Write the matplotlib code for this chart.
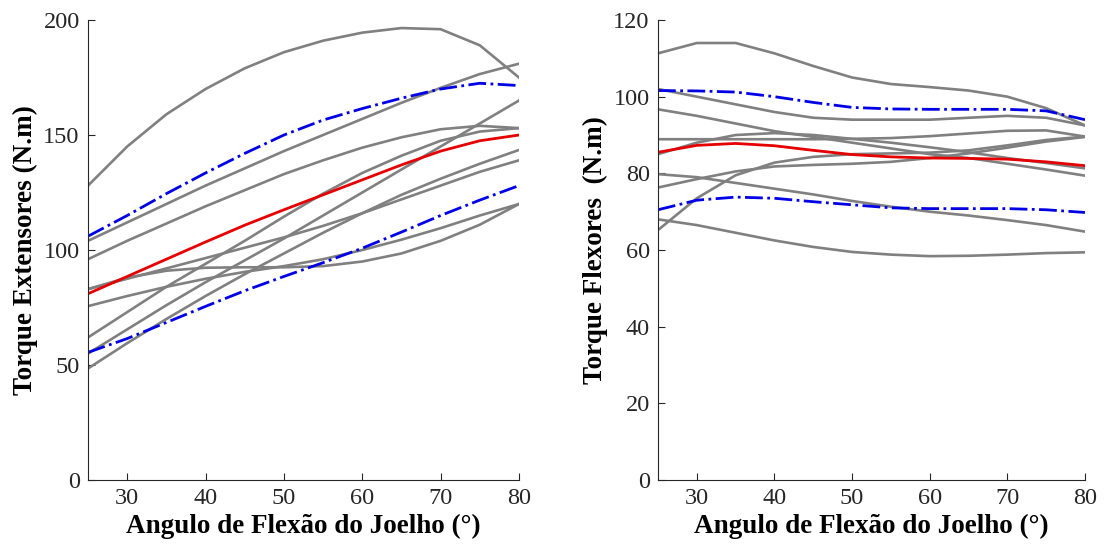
import matplotlib
matplotlib.use("Agg")
import matplotlib.pyplot as plt

# Knee flexion angle (degrees), shared by both panels
angles = [25, 30, 35, 40, 45, 50, 55, 60, 65, 70, 75, 80]

# Extensor torque (N.m): individual subjects, mean, mean +/- SD
ext_subjects = [
    [128, 145, 159, 170, 179, 186, 191, 194.5, 196.5, 196, 189, 175],
    [104, 112, 120, 128, 135.5, 143, 150, 157, 164, 170.5, 176.5, 181],
    [96, 104, 111.5, 119, 126, 133, 139, 144.5, 149, 152.5, 154, 153],
    [83, 88, 91, 92.3, 92.5, 92.5, 93, 95, 98.5, 104, 111, 120],
    [83, 87.5, 92, 96.5, 101, 105.5, 110.5, 116, 122, 128, 134, 139],
    [75.6, 80, 84, 87.5, 90.5, 93, 96, 100, 104.5, 109.5, 115, 120],
    [62, 73, 84, 94, 104, 114.5, 124.5, 133.5, 141, 147.5, 151.5, 153],
    [55, 65.5, 76, 86, 95.5, 105, 115, 125, 135, 145, 155, 165],
    [48.5, 59.5, 70, 80, 89.5, 98.5, 107.5, 116, 124, 131, 137.5, 143.5],
]
ext_mean = [81, 88.5, 96, 103.5, 110.8, 117.5, 124, 130.5, 137, 143, 147.5, 150]
ext_upper = [106, 115, 124.5, 133.5, 142, 150, 156.5, 161.5, 166, 170, 172.5, 171.5]
ext_lower = [55.5, 61.5, 68.5, 75.5, 82.3, 88.5, 94.5, 100.8, 107.8, 115, 121.7, 128]

# Flexor torque (N.m)
flex_subjects = [
    [111.3, 114, 114, 111.3, 108, 105, 103.3, 102.5, 101.6, 100, 97, 92.5],
    [102, 100, 98, 96, 94.5, 94, 94, 94, 94.5, 95, 94.5, 92.5],
    [96.7, 95, 93, 91, 89.5, 88, 86.5, 85, 84, 82.5, 81, 79.4],
    [88.9, 88.9, 88.9, 88.9, 88.9, 89, 89.2, 89.7, 90.4, 91.1, 91.2, 89.6],
    [85, 88, 90, 90.5, 90, 89, 88, 86.8, 85.5, 84, 82.7, 81.3],
    [79.8, 79, 77.5, 76, 74.5, 72.8, 71.3, 70, 69, 67.8, 66.5, 64.8],
    [76.3, 78.5, 80.5, 81.8, 82.2, 82.5, 83, 84, 85.2, 86.7, 88.3, 89.5],
    [68, 66.5, 64.5, 62.5, 60.8, 59.5, 58.8, 58.4, 58.5, 58.8, 59.2, 59.4],
    [65.2, 73.5, 79.5, 82.8, 84.3, 85, 85.2, 85.4, 86, 87.3, 88.7, 89.6],
]
flex_mean = [85.5, 87.3, 87.8, 87.2, 86, 84.9, 84.3, 84, 83.9, 83.7, 83, 82]
flex_upper = [101.6, 101.5, 101.2, 100, 98.5, 97.2, 96.8, 96.7, 96.7, 96.7, 96.3, 94]
flex_lower = [70.5, 73, 73.8, 73.5, 72.6, 71.8, 71, 70.8, 70.8, 70.8, 70.5, 69.8]

xticks = [30, 40, 50, 60, 70, 80]
xlabel = "Angulo de Flexão do Joelho (°)"

plt.rcParams["font.family"] = ["Liberation Serif", "DejaVu Serif"]


def draw_panel(ax, subjects, mean, upper, lower, ylim, yticks, ylabel):
    # grey subjects first, then SD band lines and mean on top
    for s in subjects:
        ax.plot(angles, s, color="#808080", linewidth=1.9)
    ax.plot(angles, upper, color="#0000e6", linestyle="-.", linewidth=2)
    ax.plot(angles, lower, color="#0000e6", linestyle="-.", linewidth=2)
    ax.plot(angles, mean, color="#e60000", linewidth=2)

    ax.set_xlim(25, 80)
    ax.set_ylim(*ylim)
    ax.set_xticks(xticks)
    ax.set_yticks(yticks)
    ax.spines["top"].set_visible(False)
    ax.spines["right"].set_visible(False)
    for sp in ("left", "bottom"):
        ax.spines[sp].set_color("#262626")
        ax.spines[sp].set_linewidth(0.8)
    ax.tick_params(direction="in", length=5, width=0.8, colors="#262626",
                   labelsize=17.5, pad=6)
    ax.set_xlabel(xlabel, fontsize=19.5, fontweight="bold", labelpad=3)
    ax.set_ylabel(ylabel, fontsize=19.5, fontweight="bold", labelpad=4)


fig = plt.figure(figsize=(11.07, 5.48), dpi=100)
ax1 = fig.add_axes([0.0795, 0.124, 0.3893, 0.8395])
ax2 = fig.add_axes([0.5944, 0.124, 0.3857, 0.8395])

draw_panel(ax1, ext_subjects, ext_mean, ext_upper, ext_lower,
           (0, 200), [0, 50, 100, 150, 200], "Torque Extensores (N.m)")
draw_panel(ax2, flex_subjects, flex_mean, flex_upper, flex_lower,
           (0, 120), [0, 20, 40, 60, 80, 100, 120], "Torque Flexores  (N.m)")

fig.savefig("out.png", dpi=100)
